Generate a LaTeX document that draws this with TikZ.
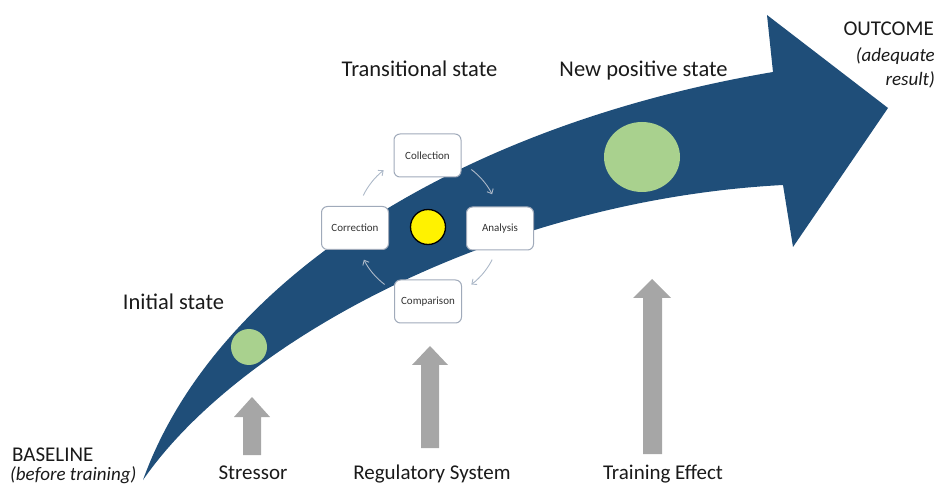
\documentclass[tikz,border=0pt]{standalone}
\usepackage{fontspec}
\setmainfont{Carlito}
\usetikzlibrary{arrows.meta,calc,shapes.geometric}
\definecolor{flow}{RGB}{31,78,121}
\definecolor{stategreen}{RGB}{169,209,142}
\definecolor{boxline}{RGB}{160,170,186}
\definecolor{looparrow}{RGB}{172,184,200}
\definecolor{boostgray}{RGB}{166,166,166}
\definecolor{labeltext}{RGB}{26,26,26}
\tikzset{
  lbl/.style={font=\fontsize{21}{25}\selectfont, text=labeltext, inner sep=0pt},
  notelbl/.style={lbl, font=\fontsize{19}{23}\selectfont\itshape},
  statelbl/.style={lbl, font=\fontsize{22.5}{27}\selectfont},
  stepbox/.style={draw=boxline, line width=1pt, fill=white, rounded corners=6pt,
    minimum width=67pt, minimum height=43pt, inner sep=2pt,
    font=\fontsize{11}{13}\selectfont, text=black!80},
  loopline/.style={draw=looparrow, line width=0.9pt,
    -{Straight Barb[length=4pt,width=7pt]}},
  boost/.style={fill=boostgray},
}
\begin{document}
\begin{tikzpicture}[x=1pt,y=-1pt]
\path[use as bounding box] (0,0) rectangle (940,486);

% main curved arrow
\coordinate (tail) at (143,480);
\coordinate (topjoin) at (773,72);
\coordinate (barbtop) at (767,15);
\coordinate (head) at (888,108);
\coordinate (barbbot) at (793,247);
\coordinate (botjoin) at (783,185);
\fill[flow] (tail) .. controls (215,280) and (460,125) .. (topjoin)
  -- (barbtop) -- (head) -- (barbbot) -- (botjoin)
  .. controls (500,200) and (240,340) .. (tail) -- cycle;

% states on the arrow
\node[circle, fill=stategreen, minimum size=36pt, inner sep=0pt] (initial) at (249,347) {};
\node[ellipse, fill=stategreen, minimum width=76pt, minimum height=70pt, inner sep=0pt] (newstate) at (642,157) {};
\node[circle, fill=yellow, draw=black, line width=1.3pt, minimum size=35pt, inner sep=0pt] (core) at (428,227) {};

% regulation loop
\node[stepbox] (collection) at (427.5,155.5) {Collection};
\node[stepbox] (analysis) at (500,228.5) {Analysis};
\node[stepbox] (comparison) at (428,301.5) {Comparison};
\node[stepbox] (correction) at (355,228) {Correction};

\draw[loopline] ($(core)+(-154:72)$) arc[start angle=-154, end angle=-128, radius=72];
\draw[loopline] ($(core)+(-53:72)$) arc[start angle=-53, end angle=-27, radius=72];
\draw[loopline] ($(core)+(27:72)$) arc[start angle=27, end angle=53, radius=72];
\draw[loopline] ($(core)+(127:72)$) arc[start angle=127, end angle=153, radius=72];

% influence arrows
\fill[boost] (252,397) -- (270,417) -- (261,417) -- (261,455) -- (243,455) -- (243,417) -- (234,417) -- cycle;
\fill[boost] (430,346) -- (448,365) -- (439,365) -- (439,448) -- (421,448) -- (421,365) -- (412,365) -- cycle;
\fill[boost] (652,279) -- (671,298) -- (662,298) -- (662,454) -- (643,454) -- (643,298) -- (633,298) -- cycle;

% labels
\node[lbl, anchor=base west] (baseline) at (12,461) {BASELINE};
\node[notelbl, anchor=base west] (before) at (10,480) {(before training)};
\node[statelbl, anchor=base] (initlbl) at (173.5,310) {Initial state};
\node[statelbl, anchor=base] (translbl) at (419.5,77) {Transitional state};
\node[statelbl, anchor=base] (newlbl) at (643.5,77) {New positive state};
\node[lbl, anchor=base east] (outcome) at (934,36) {OUTCOME};
\node[notelbl, anchor=base east] (adequate) at (935,62) {(adequate};
\node[notelbl, anchor=base east] (result) at (935,86) {result)};
\node[lbl, anchor=base] (stressor) at (253,479) {Stressor};
\node[lbl, anchor=base] (regsys) at (432,479) {Regulatory System};
\node[lbl, anchor=base] (traineff) at (663,479) {Training Effect};
\end{tikzpicture}
\end{document}
